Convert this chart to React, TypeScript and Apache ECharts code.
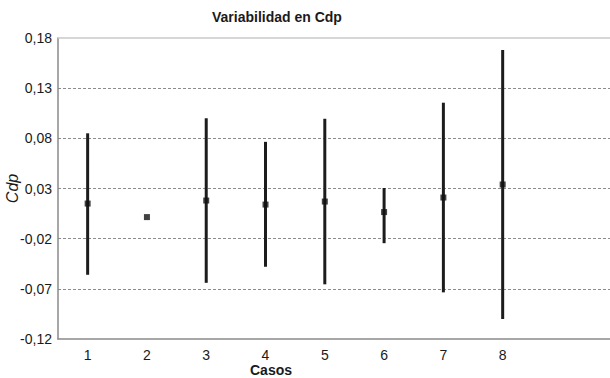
import React, { useEffect, useRef } from "react";
import * as echarts from "echarts";

// Cases on the horizontal axis
const cases = [1, 2, 3, 4, 5, 6, 7, 8];
// Mean Cdp for each case
const means = [0.015, 0.0015, 0.018, 0.014, 0.017, 0.0065, 0.021, 0.034];
// Lower / upper limits of the variability range (case 2 has none)
const lows: (number | null)[] = [-0.056, null, -0.064, -0.048, -0.0655, -0.0245, -0.0735, -0.1];
const highs: (number | null)[] = [0.085, null, 0.1, 0.0765, 0.0995, 0.0305, 0.1155, 0.168];

const yTicks = { min: -0.12, max: 0.18, step: 0.05 };

const FONT = "Liberation Sans, Arial, Helvetica, sans-serif";

export default function App() {
  const ref = useRef<HTMLDivElement>(null);

  useEffect(() => {
    if (!ref.current) return;
    const chart = echarts.init(ref.current, undefined, { renderer: "svg" });

    const rangeData = cases
      .map((c, i) => [c, lows[i], highs[i]])
      .filter((d) => d[1] !== null && d[2] !== null);

    const fmt = (v: number) => {
      const s = (Math.round(v * 100) / 100).toFixed(2).replace(".", ",");
      return s === "-0,00" ? "0,00" : s;
    };

    const xMax = 0.5 + 560 / 59.29;

    chart.setOption({
      animation: false,
      backgroundColor: "#ffffff",
      grid: {
        left: 58,
        top: 38,
        width: 560,
        height: 301,
        containLabel: false,
        outerBoundsMode: "none",
      },
      graphic: [
        {
          type: "text",
          left: 212,
          top: 10,
          style: {
            text: "Variabilidad en Cdp",
            font: `bold 14px ${FONT}`,
            fill: "#1a1a1a",
          },
        },
        {
          type: "text",
          left: 250,
          top: 363,
          style: {
            text: "Casos",
            font: `bold 14px ${FONT}`,
            fill: "#1a1a1a",
          },
        },
      ],
      xAxis: [
        {
          type: "value",
          min: 0.5,
          max: xMax,
          axisLine: { show: true, onZero: false, lineStyle: { color: "#8a8a8a", width: 1.5 } },
          axisTick: { show: false },
          splitLine: { show: false },
          axisLabel: {
            customValues: cases,
            formatter: (v: number) => String(v),
            color: "#1a1a1a",
            fontSize: 14,
            fontFamily: FONT,
            margin: 9,
          },
          z: 5,
        },
      ],
      yAxis: {
        type: "value",
        min: yTicks.min,
        max: yTicks.max,
        interval: yTicks.step,
        name: "Cdp",
        nameLocation: "middle",
        nameRotate: 90,
        nameGap: 38,
        nameMoveOverlap: false,
        nameTextStyle: {
          fontStyle: "italic",
          fontSize: 16,
          fontFamily: FONT,
          color: "#1a1a1a",
        },
        axisLine: { show: true, onZero: false, lineStyle: { color: "#8a8a8a", width: 1.5 } },
        axisTick: { show: false },
        axisLabel: {
          formatter: fmt,
          color: "#1a1a1a",
          fontSize: 14,
          fontFamily: FONT,
          margin: 6,
        },
        splitLine: {
          show: true,
          showMinLine: false,
          showMaxLine: false,
          lineStyle: { color: "#8c8c8c", type: [3, 2], width: 1 },
        },
      },
      series: [
        {
          type: "custom",
          name: "Rango",
          data: rangeData,
          encode: { x: 0, y: [1, 2] },
          renderItem: (params: any, api: any) => {
            const x = api.value(0);
            const lo = api.coord([x, api.value(1)]);
            const hi = api.coord([x, api.value(2)]);
            return {
              type: "line",
              shape: { x1: lo[0], y1: lo[1], x2: hi[0], y2: hi[1] },
              style: { stroke: "#1c1c1c", lineWidth: 3 },
            };
          },
          // solid top border of the plot frame
          markLine: {
            silent: true,
            symbol: "none",
            label: { show: false },
            lineStyle: { color: "#c8c8c8", type: "solid", width: 1.5 },
            data: [{ yAxis: yTicks.max }],
          },
          z: 2,
        },
        {
          type: "scatter",
          name: "Media",
          data: cases.map((c, i) => [c, means[i]]),
          symbol: "rect",
          symbolSize: 6,
          itemStyle: { color: "#111111" },
          z: 3,
        },
      ],
    });

    return () => chart.dispose();
  }, []);

  return (
    <div
      ref={ref}
      style={{ position: "absolute", left: 0, top: 0, width: 610, height: 378, background: "#fff" }}
    />
  );
}
